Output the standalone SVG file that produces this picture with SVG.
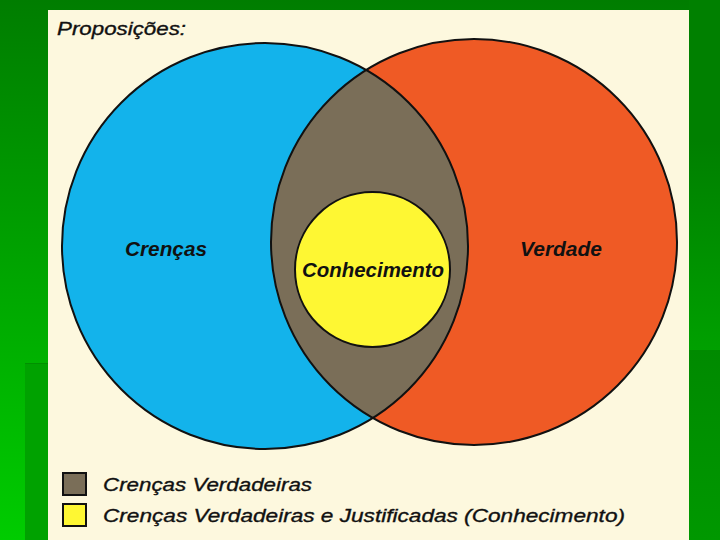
<svg xmlns="http://www.w3.org/2000/svg" width="720" height="540" viewBox="0 0 720 540">
  <defs>
    <linearGradient id="bgL" x1="0" y1="0" x2="0" y2="1">
      <stop offset="0" stop-color="#007d00"/>
      <stop offset="1" stop-color="#00cc00"/>
    </linearGradient>
    <linearGradient id="bgR1" x1="0" y1="0" x2="0" y2="1">
      <stop offset="0" stop-color="#007f00"/>
      <stop offset="1" stop-color="#00a000"/>
    </linearGradient>
    <linearGradient id="bgR2" x1="0" y1="0" x2="0" y2="1">
      <stop offset="0" stop-color="#008a00"/>
      <stop offset="1" stop-color="#009800"/>
    </linearGradient>
    <clipPath id="blueClip">
      <circle cx="265" cy="246" r="203"/>
    </clipPath>
    <style>
      .lbl { font-family: "Liberation Sans", Arial, sans-serif; font-style: italic; fill: #111; }
      .big { font-size: 20px; font-weight: bold; }
      .leg { font-size: 19px; stroke: #111; stroke-width: 0.35; }
      .ring { fill: none; stroke: #111; stroke-width: 2; }
      .box { stroke: #111; stroke-width: 2; }
    </style>
  </defs>

  <!-- background -->
  <rect x="0" y="0" width="720" height="540" fill="url(#bgL)"/>
  <rect x="25" y="363" width="23" height="177" fill="#00a200"/>
  <rect x="25" y="363" width="23" height="1" fill="#009000"/>
  <rect x="689" y="0" width="31" height="140" fill="#008000"/>
  <rect x="689" y="140" width="31" height="210" fill="url(#bgR1)"/>
  <rect x="689" y="350" width="31" height="190" fill="url(#bgR2)"/>

  <!-- panel -->
  <rect x="48" y="10" width="641" height="530" fill="#fdf8de"/>

  <text class="lbl leg" x="57" y="35" textLength="129" lengthAdjust="spacingAndGlyphs">Proposições:</text>

  <g id="crencas">
    <circle cx="265" cy="246" r="203" fill="#13b3eb"/>
  </g>
  <g id="verdade">
    <circle cx="474" cy="242" r="203" fill="#ef5a25"/>
  </g>
  <g id="crencas-verdadeiras">
    <circle cx="474" cy="242" r="203" fill="#7a6e58" clip-path="url(#blueClip)"/>
  </g>
  <circle class="ring" cx="265" cy="246" r="203"/>
  <circle class="ring" cx="474" cy="242" r="203"/>
  <g id="conhecimento">
    <circle cx="372.5" cy="269.5" r="77.5" fill="#fef733" stroke="#111" stroke-width="2"/>
    <text class="lbl big" x="302" y="277" textLength="142" lengthAdjust="spacingAndGlyphs">Conhecimento</text>
  </g>

  <text class="lbl big" x="125" y="256" textLength="82" lengthAdjust="spacingAndGlyphs">Crenças</text>
  <text class="lbl big" x="520" y="256" textLength="82" lengthAdjust="spacingAndGlyphs">Verdade</text>

  <g id="legend1">
    <rect class="box" x="63" y="473" width="23" height="22" fill="#7a6e58"/>
    <text class="lbl leg" x="103" y="491" textLength="209" lengthAdjust="spacingAndGlyphs">Crenças Verdadeiras</text>
  </g>
  <g id="legend2">
    <rect class="box" x="63" y="504" width="23" height="22" fill="#fef733"/>
    <text class="lbl leg" x="103" y="522" textLength="522" lengthAdjust="spacingAndGlyphs">Crenças Verdadeiras e Justificadas (Conhecimento)</text>
  </g>
</svg>
